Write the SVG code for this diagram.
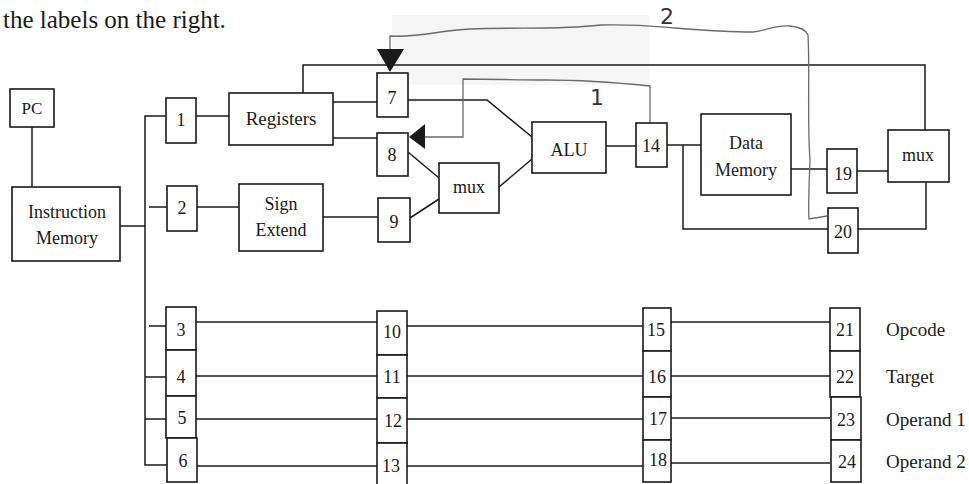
<svg xmlns="http://www.w3.org/2000/svg" width="969" height="484" viewBox="0 0 969 484">
<style>
.b{fill:#fff;stroke:#1a1a1a;stroke-width:1.6}
.t{font-family:"Liberation Serif","Times New Roman",serif;font-size:18px;fill:#1a1a1a;text-anchor:middle}
.l{font-family:"Liberation Serif","Times New Roman",serif;font-size:19px;fill:#1a1a1a}
.w{fill:none;stroke:#1a1a1a;stroke-width:1.5}
.h{fill:none;stroke:#6a6a6a;stroke-width:1.3}
.hw{font-family:"DejaVu Sans",sans-serif;font-size:22px;fill:#333;text-anchor:middle}
</style>
<rect width="969" height="484" fill="#fff"/>
<rect x="392" y="15" width="257" height="70" fill="#f6f6f6"/>
<text class="l" x="3" y="28" style="font-size:25px">the labels on the right.</text>

<g id="connectors">
<polyline class="w" points="32,127 32,187"/>
<polyline class="w" points="120,226 145,226"/>
<polyline class="w" points="166,116 145,116 145,465 167,465"/>
<polyline class="w" points="149,207 167,207"/>
<polyline class="w" points="196,116 229,116"/>
<polyline class="w" points="197,207 239,207"/>
<polyline class="w" points="303,93 303,65 925,65 925,130"/>
<polyline class="w" points="333,102 377,102"/>
<polyline class="w" points="333,138 377,138"/>
<polyline class="w" points="408,100 487,100 532,137"/>
<polyline class="w" points="408,152 439,178"/>
<polyline class="w" points="323,217 378,217"/>
<polyline class="w" points="410,218 439,199"/>
<polyline class="w" points="499,187 532,159"/>
<polyline class="w" points="606,146 636,146"/>
<polyline class="w" points="667,145 701,145"/>
<polyline class="w" points="683,145 683,229 828,229"/>
<polyline class="w" points="791,169 827,169"/>
<polyline class="w" points="857,171 888,171"/>
<polyline class="w" points="926,182 926,229 858,229"/>
<polyline class="w" points="149,326 166,326"/>
<polyline class="w" points="145,377 166,377"/>
<polyline class="w" points="145,419 166,419"/>
<polyline class="w" points="196,322 377,322"/>
<polyline class="w" points="196,376 377,376"/>
<polyline class="w" points="196,419 377,419"/>
<polyline class="w" points="196,466 377,466"/>
<polyline class="w" points="407,326 643,326"/>
<polyline class="w" points="407,376 643,376"/>
<polyline class="w" points="407,419 643,419"/>
<polyline class="w" points="407,466 643,466"/>
<polyline class="w" points="671,322 830,322"/>
<polyline class="w" points="671,376 830,376"/>
<polyline class="w" points="671,418 830,418"/>
<polyline class="w" points="671,463 830,463"/>
<path class="h" d="M390,49 L390,36 C420,38 440,30 470,29 C520,27 560,30 600,25 C640,24 660,27 675,28 C700,30 730,32 753,32 C765,31 775,25 790,26 C800,27 806,30 808,35 C810,70 807,120 810,160 C809,190 808,205 809,219 L827,216"/>
<path class="h" d="M650,123 L650,86 C620,83 590,80 547,80 C520,80 490,79 463,79 L463,137 L425,137"/>
<polygon points="377,49 404,49 390,72" fill="#1a1a1a"/>
<polygon points="425,124 425,149 409,137" fill="#1a1a1a"/>
</g>
<text class="hw" x="667" y="24">2</text>
<text class="hw" x="597" y="105">1</text>

<g id="pc"><rect class="b" x="10" y="89" width="44" height="38"/><text class="t" x="32" y="114" style="font-size:17px">PC</text></g>
<g id="imem"><rect class="b" x="12" y="187" width="108" height="74"/><text class="t" x="67" y="218" style="font-size:18px">Instruction</text><text class="t" x="67" y="244" style="font-size:18px">Memory</text></g>
<g id="n1"><rect class="b" x="166" y="98" width="30" height="45"/><text class="t" x="181" y="126">1</text></g>
<g id="n2"><rect class="b" x="167" y="186" width="30" height="45"/><text class="t" x="182" y="214">2</text></g>
<g id="registers"><rect class="b" x="229" y="93" width="104" height="52"/><text class="t" x="281" y="125" style="font-size:19px">Registers</text></g>
<g id="signext"><rect class="b" x="239" y="184" width="84" height="67"/><text class="t" x="281" y="210">Sign</text><text class="t" x="281" y="236">Extend</text></g>
<g id="n7"><rect class="b" x="377" y="73" width="31" height="44"/><text class="t" x="392" y="104">7</text></g>
<g id="n8"><rect class="b" x="377" y="133" width="31" height="43"/><text class="t" x="392" y="161">8</text></g>
<g id="n9"><rect class="b" x="378" y="198" width="32" height="44"/><text class="t" x="394" y="228">9</text></g>
<g id="mux1"><rect class="b" x="439" y="163" width="60" height="50"/><text class="t" x="469" y="193">mux</text></g>
<g id="alu"><rect class="b" x="532" y="122" width="74" height="51"/><text class="t" x="569" y="156">ALU</text></g>
<g id="n14"><rect class="b" x="636" y="123" width="31" height="44"/><text class="t" x="651" y="152">14</text></g>
<g id="dmem"><rect class="b" x="701" y="114" width="90" height="81"/><text class="t" x="746" y="149">Data</text><text class="t" x="746" y="176">Memory</text></g>
<g id="n19"><rect class="b" x="827" y="149" width="30" height="44"/><text class="t" x="843" y="180">19</text></g>
<g id="mux2"><rect class="b" x="888" y="130" width="61" height="52"/><text class="t" x="918" y="161">mux</text></g>
<g id="n20"><rect class="b" x="828" y="208" width="30" height="45"/><text class="t" x="843" y="238">20</text></g>

<g id="n3"><rect class="b" x="166" y="307" width="30" height="43"/><text class="t" x="181" y="336">3</text></g>
<g id="n4"><rect class="b" x="166" y="350" width="30" height="46"/><text class="t" x="181" y="383">4</text></g>
<g id="n5"><rect class="b" x="166" y="396" width="30" height="42"/><text class="t" x="182" y="424">5</text></g>
<g id="n6"><rect class="b" x="167" y="438" width="30" height="44"/><text class="t" x="183" y="467">6</text></g>
<g id="n10"><rect class="b" x="377" y="311" width="30" height="44"/><text class="t" x="392" y="338">10</text></g>
<g id="n11"><rect class="b" x="377" y="355" width="30" height="43"/><text class="t" x="392" y="383">11</text></g>
<g id="n12"><rect class="b" x="377" y="398" width="30" height="45"/><text class="t" x="393" y="427">12</text></g>
<g id="n13"><rect class="b" x="377" y="443" width="30" height="44"/><text class="t" x="391" y="472">13</text></g>
<g id="n15"><rect class="b" x="643" y="308" width="28" height="43"/><text class="t" x="656" y="336">15</text></g>
<g id="n16"><rect class="b" x="643" y="351" width="28" height="46"/><text class="t" x="657" y="383">16</text></g>
<g id="n17"><rect class="b" x="643" y="397" width="28" height="43"/><text class="t" x="658" y="425">17</text></g>
<g id="n18"><rect class="b" x="643" y="440" width="28" height="42"/><text class="t" x="658" y="466">18</text></g>
<g id="n21"><rect class="b" x="830" y="308" width="30" height="43"/><text class="t" x="845" y="336">21</text></g>
<g id="n22"><rect class="b" x="830" y="351" width="30" height="46"/><text class="t" x="845" y="383">22</text></g>
<g id="n23"><rect class="b" x="831" y="397" width="30" height="43"/><text class="t" x="846" y="426">23</text></g>
<g id="n24"><rect class="b" x="831" y="440" width="30" height="42"/><text class="t" x="847" y="468">24</text></g>

<text class="l" x="886" y="336">Opcode</text>
<text class="l" x="886" y="383">Target</text>
<text class="l" x="886" y="426">Operand 1</text>
<text class="l" x="886" y="468">Operand 2</text>
</svg>
